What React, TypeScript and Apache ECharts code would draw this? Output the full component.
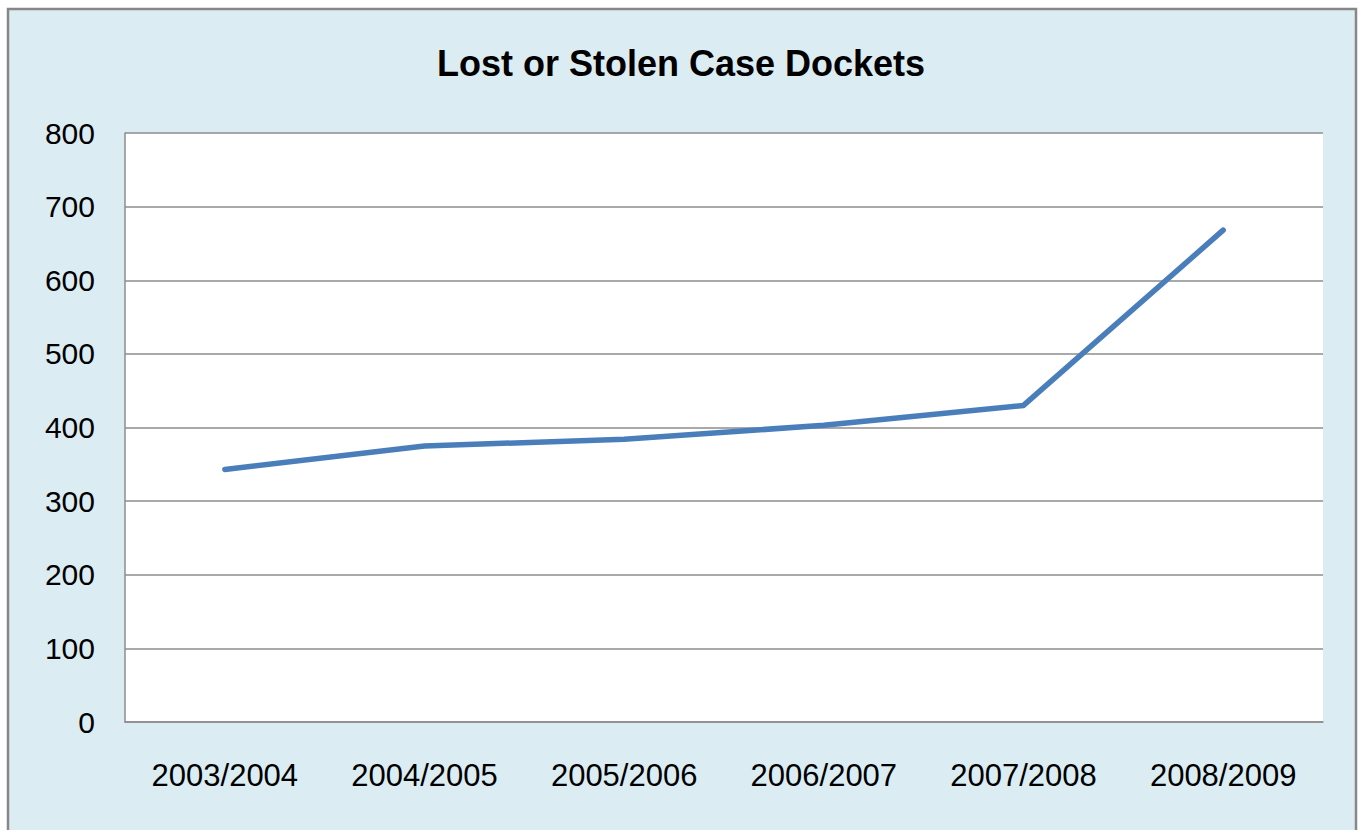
import React, { useEffect, useRef } from "react";
import * as echarts from "echarts";

const titleText = "Lost or Stolen Case Dockets";
const categories = ["2003/2004", "2004/2005", "2005/2006", "2006/2007", "2007/2008", "2008/2009"];
const docketValues = [343, 375, 384, 403, 430, 668];
const yMin = 0;
const yMax = 800;
const yStep = 100;

export default function App() {
  const ref = useRef<HTMLDivElement>(null);
  useEffect(() => {
    if (!ref.current) return;
    const chart = echarts.init(ref.current, null, { renderer: "svg" });
    chart.setOption({
      animation: false,
      backgroundColor: "#ffffff",
      graphic: [
        {
          type: "rect",
          z: -10,
          silent: true,
          shape: { x: 8, y: 9, width: 1348, height: 840 },
          style: { fill: "#DBEDF3", stroke: "#878787", lineWidth: 2.5 },
        },
      ],
      title: {
        text: titleText,
        left: "center",
        top: 40,
        textStyle: {
          fontFamily: "Liberation Sans, Arial, sans-serif",
          fontWeight: "bold",
          fontSize: 36,
          color: "#000",
        },
      },
      grid: {
        left: 125,
        top: 133,
        right: 39,
        bottom: 108,
        show: true,
        backgroundColor: "#ffffff",
        borderWidth: 0,
      },
      xAxis: {
        type: "category",
        data: categories,
        boundaryGap: true,
        axisLine: { show: true, lineStyle: { color: "#8c8c8c", width: 1.5 } },
        axisTick: { show: false },
        axisLabel: {
          margin: 38,
          fontFamily: "Liberation Sans, Arial, sans-serif",
          fontSize: 31,
          color: "#000",
        },
        splitLine: { show: false },
      },
      yAxis: {
        type: "value",
        min: yMin,
        max: yMax,
        interval: yStep,
        axisLine: { show: true, lineStyle: { color: "#8c8c8c", width: 1.5 } },
        axisTick: { show: false },
        axisLabel: {
          margin: 30,
          fontFamily: "Liberation Sans, Arial, sans-serif",
          fontSize: 30,
          color: "#000",
        },
        splitLine: { show: true, lineStyle: { color: "#8c8c8c", width: 1.5 } },
      },
      series: [
        {
          type: "line",
          data: docketValues,
          symbol: "none",
          lineStyle: { color: "#4A7EBB", width: 5.5, cap: "round", join: "round" },
        },
      ],
    });
    return () => chart.dispose();
  }, []);
  return (
    <div
      ref={ref}
      style={{ position: "fixed", left: 0, top: 0, width: 1362, height: 830 }}
    />
  );
}
